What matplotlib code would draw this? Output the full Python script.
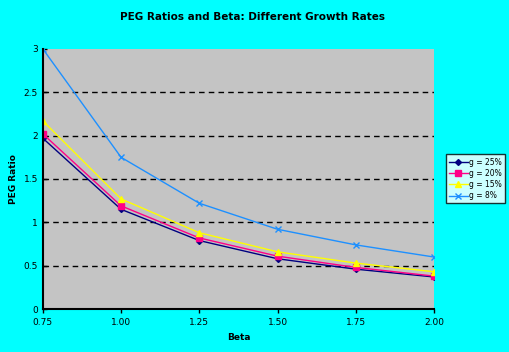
import matplotlib.pyplot as plt

beta = [0.75, 1.00, 1.25, 1.50, 1.75, 2.00]
peg_25 = [1.97, 1.15, 0.79, 0.58, 0.46, 0.37]
peg_20 = [2.02, 1.19, 0.82, 0.61, 0.48, 0.38]
peg_15 = [2.17, 1.27, 0.88, 0.66, 0.53, 0.43]
peg_8 = [3.00, 1.75, 1.22, 0.92, 0.74, 0.60]
labels = ["g = 25%", "g = 20%", "g = 15%", "g = 8%"]

fig = plt.figure(figsize=(5.1, 3.52), dpi=100, facecolor="#00ffff")
ax = fig.add_axes([0.084, 0.122, 0.767, 0.739])
ax.set_facecolor("#c4c4c4")

ax.plot(beta, peg_25, color="#000080", marker="D", markersize=3, lw=1, label=labels[0])
ax.plot(beta, peg_20, color="#ff0088", marker="s", markersize=4, lw=1, label=labels[1])
ax.plot(beta, peg_15, color="#ffff00", marker="^", markersize=5, lw=1, label=labels[2])
ax.plot(beta, peg_8, color="#1e90ff", marker="x", markersize=4, lw=1, label=labels[3])

ax.set_xlim(0.75, 2.0)
ax.set_ylim(0, 3)
ax.set_xticks(beta)
ax.set_xticklabels([f"{b:.2f}" for b in beta])
ax.set_yticks([0, 0.5, 1, 1.5, 2, 2.5, 3])
ax.set_yticklabels(["0", "0.5", "1", "1.5", "2", "2.5", "3"])
ax.tick_params(labelsize=6.5, length=3, width=1)
ax.tick_params(axis="y", direction="in")
ax.yaxis.grid(True, color="black", linestyle=(0, (4, 3)), lw=1)
ax.get_ygridlines()[-1].set_visible(False)
ax.set_axisbelow(True)
for s in ["top", "right"]:
    ax.spines[s].set_visible(False)
ax.spines["left"].set_linewidth(1.5)
ax.spines["bottom"].set_linewidth(1.5)

ax.set_xlabel("Beta", fontsize=6.5, fontweight="bold")
ax.set_ylabel("PEG Ratio", fontsize=6.5, fontweight="bold")
fig.suptitle("PEG Ratios and Beta: Different Growth Rates", x=0.495, y=0.965,
             fontsize=7.5, fontweight="bold")

leg = ax.legend(loc="center left", bbox_to_anchor=(1.03, 0.5), fontsize=5.5,
                frameon=True, fancybox=False, edgecolor="black",
                handlelength=2.5, handletextpad=0.2, borderpad=0.4,
                labelspacing=0.3, borderaxespad=0)
leg.get_frame().set_linewidth(1)

fig.savefig("out.png", dpi=100, facecolor=fig.get_facecolor())
